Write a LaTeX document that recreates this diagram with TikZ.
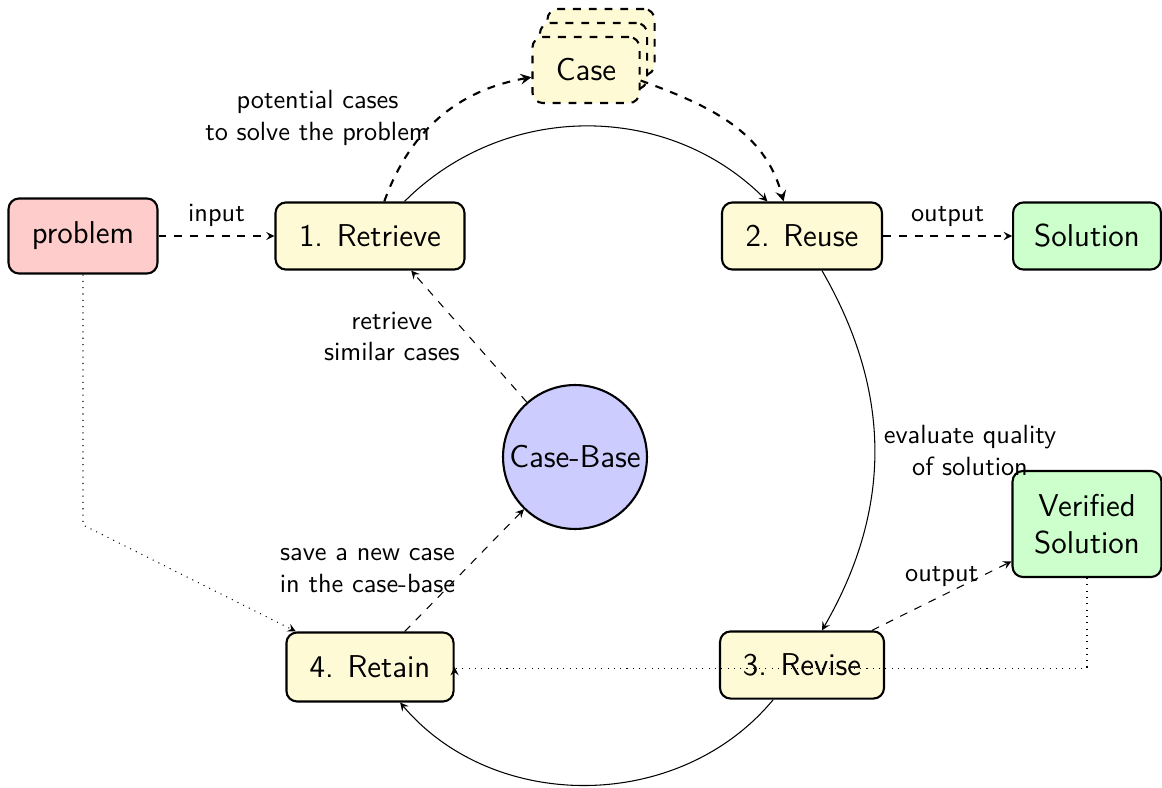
\documentclass[tikz,border=0pt]{standalone}
\usepackage{fontspec}
\usetikzlibrary{arrows}
\definecolor{stagefill}{RGB}{255,250,214}
\begin{document}
\begin{tikzpicture}[x=0.38pt,y=0.38pt,>=stealth,font=\sffamily,
  box/.style={draw,thick,rounded corners=4pt,font=\sffamily\large,inner sep=2pt,align=center},
  stage/.style={box,fill=stagefill,minimum height=25.5pt},
  inbox/.style={box,fill=red!20},
  outbox/.style={box,fill=green!20},
  casebox/.style={box,dashed,fill=stagefill,minimum width=40.7pt,minimum height=25.1pt},
  lbl/.style={font=\sffamily\normalsize,align=center},
  flow/.style={->},
  dashflow/.style={->,dashed},
  dotflow/.style={->,dotted}]

\useasboundingbox (0,0) rectangle (1162,787);

% cycle stages
\node[stage,minimum width=71.8pt] (Retrieve) at (370,551) {1. Retrieve};
\node[stage,minimum width=60.8pt] (Reuse)    at (802,551) {2. Reuse};
\node[stage,minimum width=62.3pt] (Revise)   at (802,122) {3. Revise};
\node[stage,minimum width=63.5pt,minimum height=26.2pt] (Retain) at (370,120) {4. Retain};

% input and outputs
\node[inbox,minimum width=56.6pt,minimum height=28.5pt] (problem) at (83,551) {problem};
\node[outbox,minimum width=56.2pt,minimum height=25.5pt] (Solution) at (1087,551) {Solution};
\node[outbox,minimum width=56.6pt,minimum height=40.3pt] (Verified) at (1087,263) {Verified\\Solution};

% stack of retrieved cases
\node[casebox] (CaseBackB) at (601,745) {\phantom{Case}};
\node[casebox] (CaseBackA) at (593.5,731) {\phantom{Case}};
\node[casebox] (Case) at (586,717) {Case};

% case base
\node[circle,draw,thick,fill=blue!20,minimum size=54.7pt,inner sep=0pt,font=\sffamily\large] (CaseBase) at (575,330) {Case-Base};

% main cycle
\draw[flow] (Retrieve) to[bend left=45] (Reuse);
\draw[flow] (Reuse) to[bend left=30]
  node[midway,right,lbl] {evaluate quality\\of solution} (Revise);
\draw[flow] (Revise) to[bend left=50] (Retain);

% case retrieval and reuse
\draw[dashflow,thick] (Retrieve) to[bend left=30]
  node[midway,left,lbl] {potential cases\\to solve the problem} (Case);
\draw[dashflow,thick] ([yshift=-4pt]Case.east) to[out=-20,in=105] ([xshift=-7pt]Reuse.north);

% case base interaction
\draw[dashflow] (CaseBase) -- node[midway,left,lbl] {retrieve\\similar cases} (Retrieve.-40);
\draw[dashflow] (Retain) -- node[midway,left,lbl] {save a new case\\in the case-base} (CaseBase);

% inputs and outputs
\draw[dashflow] (problem) -- node[midway,above,lbl] {input} (Retrieve);
\draw[dashflow] (Reuse) -- node[midway,above,lbl] {output} (Solution);
\draw[dashflow] (Revise) -- node[midway,above,lbl] {output} (Verified);

% feedback into retain
\coordinate (ProbDown) at (83,262);
\draw[dotflow] (problem.south) -- (ProbDown) -- ([xshift=4pt]Retain.north west);
\draw[dotflow] (Verified.south) |- ([yshift=-0.4pt]Retain.east) -- (Retain.east);

\end{tikzpicture}
\end{document}
